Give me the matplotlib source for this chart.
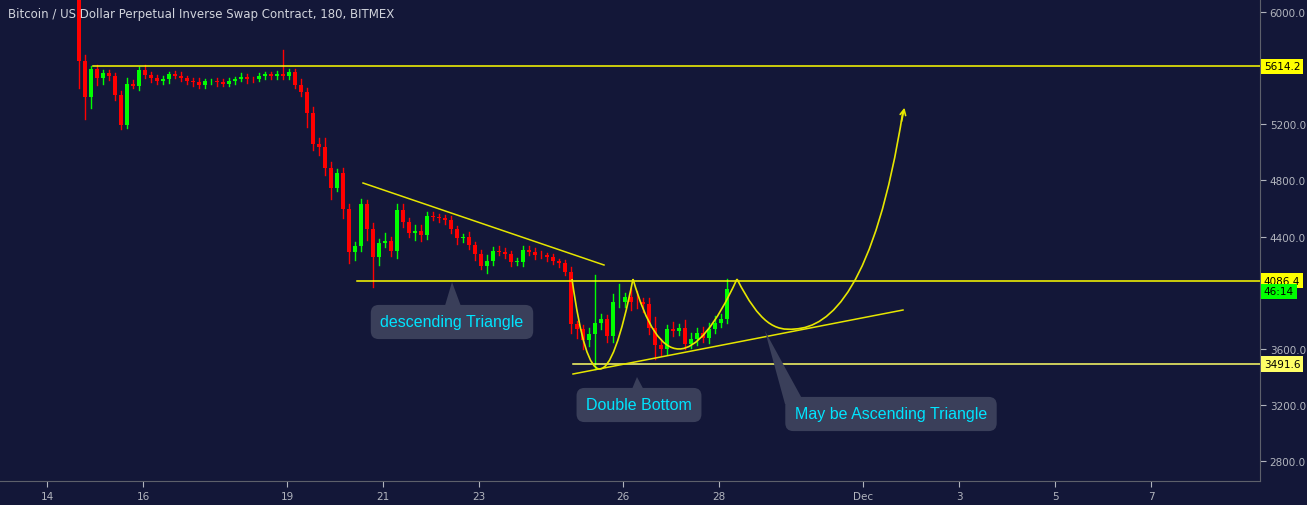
import matplotlib
matplotlib.use("Agg")
import matplotlib.pyplot as plt
from matplotlib.path import Path
from matplotlib.patches import PathPatch, Polygon, Rectangle

closes = [5650,5395,5595,5530,5565,5545,5410,5195,5490,5475,5590,5550,5530,
          5510,5520,5560,5545,5530,5510,5500,5480,5505,5510,5500,5490,5510,5525,5540,5525,5520,5545,5555,5545,5560,
          5545,5575,
          5480,5430,5280,5060,5040,4890,4745,4850,4595,4290,4330,4630,4455,4255,4355,4365,4300,4590,4500,4425,4440,4410,4545,4540,4530,4520,4455,4390,
          4400,4340,4275,4190,4225,4295,4290,4275,4220,4220,4305,4290,4270,4265,4255,4225,4210,4145,3775,3740,3660,3705,3780,3810,3690,3930,3935,3970,3935,3930,3920,3745,3630,3595,3740,3730,3745,3635,3670,3715,3680,3740,3785,3815,4025]
first_open = 6150
upper_wick = [60,40,20,30,20,25,20,30,40,25,20,30,20,
              20,25,15,20,25,15,20,30,20,15,20,25,20,15,25,20,15,20,15,20,20,
              170,20,
              20,40,30,40,40,60,40,30,40,40,30,40,30,40,30,60,30,40,40,30,40,40,30,30,20,20,25,20,
              20,30,20,30,40,30,40,25,20,30,30,25,30,30,20,20,15,20,40,20,30,40,345,40,30,60,130,30,60,80,30,40,80,40,30,50,30,60,40,30,40,40,50,30,70]
lower_wick = [190,155,80,50,40,30,40,30,20,20,30,20,30,
              20,20,25,15,20,20,30,20,20,15,30,20,20,25,20,30,20,15,25,20,20,
              20,20,
              20,30,100,40,60,50,80,20,60,80,60,30,80,215,60,30,40,50,30,30,50,40,30,25,30,30,30,40,
              30,30,40,20,50,30,20,30,30,20,30,20,30,20,30,20,30,20,60,60,60,40,250,40,40,40,30,40,60,40,60,40,100,40,30,40,30,40,30,40,30,40,30,30,30]
start_day = 14.667
step = 0.125

date_ticks = [14,16,19,21,23,26,28,31,33,35,37]
date_labels = ["14","16","19","21","23","26","28","Dec","3","5","7"]
price_ticks = [2800,3200,3600,4000,4400,4800,5200,5600,6000]
price_labels = ["2800.0","3200.0","3600.0","","4400.0","4800.0","5200.0","","6000.0"]
levels = [5614.2, 4086.4, 3491.6]

BG = "#131738"
YEL = "#ffff00"
fig = plt.figure(figsize=(13.07,5.06), dpi=100, facecolor=BG)
ax = fig.add_axes([0, 24/506, 1260/1307, 482/506], facecolor=BG)

def px(x, y):
    return 14 + (x-47)/48.0, 6000 - (y-13)*3200/449.0

opens = [first_open] + closes[:-1]
for i, c in enumerate(closes):
    o = opens[i]
    t = start_day + i*step
    col = "#00ff00" if c >= o else "#ff0000"
    hi = max(o, c) + upper_wick[i]
    lo = min(o, c) - lower_wick[i]
    ax.plot([t, t], [lo, hi], color=col, lw=1, zorder=3)
    ax.add_patch(Rectangle((t-0.05, min(o, c)), 0.1, max(abs(c-o), 6), color=col, zorder=4, lw=0))

for lv, x0 in zip(levels, [93, 357, 573]):
    ax.plot([px(x0,0)[0], 45], [lv, lv], color=YEL if lv != 3491.6 else "#ffff66", lw=1.1, zorder=5)

def line(p0, p1):
    a = px(*p0); b = px(*p1)
    ax.plot([a[0], b[0]], [a[1], b[1]], color="#e6e600", lw=1.1, zorder=5)
line((363,184),(604,266))
line((573,375),(903,311))

def curve(pts, codes):
    verts = [px(*p) for p in pts]
    ax.add_patch(PathPatch(Path(verts, codes), fill=False, ec="#e6e600", lw=1.2, zorder=5))
C3 = Path.CURVE3; C4 = Path.CURVE4; M = Path.MOVETO
curve([(572,280),(597,460),(633,280)], [M, C3, C3])
curve([(633,280),(673,420),(737,280)], [M, C3, C3])
curve([(737,280),(760,325),(775,332),(795,330),(830,328),(875,290),(903,112)], [M, C4, C4, C4, C4, C4, C4])
a0 = px(901,125); a1 = px(905,106)
ax.annotate("", xy=a1, xytext=a0, arrowprops=dict(arrowstyle="->", color="#e6e600", lw=1.2), zorder=6)

BOX = "#3a3f5a"
def callout(text, cx, cy, tri):
    ax.add_patch(Polygon([px(*p) for p in tri], closed=True, fc=BOX, ec="none", zorder=6))
    ax.text(*px(cx, cy), text, color="#00e5ff", fontsize=11.5, ha="center", va="center", zorder=7,
            family="Liberation Sans",
            bbox=dict(boxstyle="round,pad=0.6,rounding_size=0.5", fc=BOX, ec="none"))
callout("descending Triangle", 452, 323, [(444,310),(452,283),(462,310)])
callout("Double Bottom", 639, 406, [(630,395),(637,378),(646,395)])
callout("May be Ascending Triangle", 891, 415, [(785,405),(765,332),(805,405)])

ax.set_xlim(px(0,0)[0], px(1260,0)[0])
ax.set_ylim(px(0,482)[1], px(0,0)[1])
ax.set_xticks(date_ticks)
ax.set_xticklabels(date_labels)
ax.set_yticks(price_ticks)
ax.set_yticklabels(price_labels)
ax.yaxis.tick_right()
ax.tick_params(colors="#b2b5be", labelsize=7.5, length=4, pad=3)
for s in ["top", "left"]:
    ax.spines[s].set_visible(False)
for s in ["right", "bottom"]:
    ax.spines[s].set_color("#5d606b")

for lv, txt, fc in [(5614.2,"5614.2",YEL),(4086.4,"4086.4",YEL),(3491.6,"3491.6","#ffff66"),(4010,"46:14","#00ff00")]:
    ax.text(1.003, lv, txt, transform=ax.get_yaxis_transform(), fontsize=7.5, color="black", va="center",
            ha="left", zorder=10, clip_on=False, bbox=dict(boxstyle="square,pad=0.25", fc=fc, ec="none"))

fig.text(0.006, 0.972, "Bitcoin / US Dollar Perpetual Inverse Swap Contract, 180, BITMEX",
         color="#d1d4dc", fontsize=8.5, va="center", ha="left")
fig.savefig("out.png", dpi=100, facecolor=BG)
